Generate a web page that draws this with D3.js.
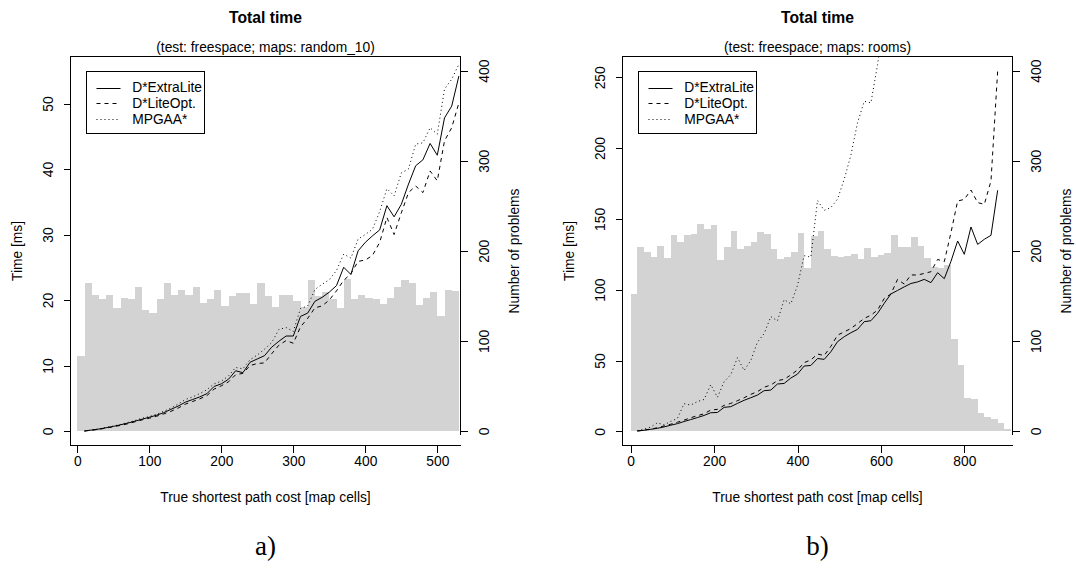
<!DOCTYPE html>
<html>
<head>
<meta charset="utf-8">
<script src="https://cdn.jsdelivr.net/npm/d3@7"></script>
<style>
  body { margin: 0; background: #fff; }
  text { font-family: "Liberation Sans", Arial, Helvetica, sans-serif; font-size: 13.8px; fill: #000; }
</style>
</head>
<body>
<svg id="chart" width="1076" height="569"></svg>
<script>
// ---------- panel a) : maps random_10 ----------
const edgesA = [0,10,20,30,40,50,60,70,80,90,100,110,120,130,140,150,160,170,180,190,200,
  210,220,230,240,250,260,270,280,290,300,310,320,330,340,350,360,370,380,390,400,
  410,420,430,440,450,460,470,480,490,500,510,520,530];
const problemsA = [83,164,151,147,151,137,148,147,160,134,131,147,164,151,156,151,160,142,147,156,
  139,150,153,153,141,164,150,138,151,151,144,138,168,150,154,147,136,169,147,151,
  148,147,141,148,160,168,164,140,148,154,128,157,155];
const costA = [10,20,30,40,50,60,70,80,90,100,110,120,130,140,150,160,170,180,190,200,
  210,220,230,240,250,260,270,280,290,300,310,320,330,340,350,360,370,380,390,400,
  410,420,430,440,450,460,470,480,490,500,510,520,530];
const extraLiteA = [0.0,0.15,0.3,0.5,0.7,0.95,1.2,1.5,1.8,2.1,2.4,2.8,3.3,3.8,4.4,4.8,5.2,5.7,6.8,7.2,
  7.9,9.2,8.9,10.5,11.0,11.5,12.8,13.7,14.5,14.5,17.5,18.0,19.8,20.4,21.2,22.2,25.0,23.9,27.5,28.8,
  29.8,30.7,34.4,32.7,34.6,37.7,40.5,41.4,43.9,42.1,47.8,49.6,54.2];
const liteOptA = [0.0,0.12,0.25,0.45,0.65,0.85,1.1,1.4,1.7,1.95,2.25,2.6,3.0,3.5,4.1,4.5,4.9,5.4,6.4,6.9,
  7.5,8.6,8.8,10.0,10.3,10.4,11.8,13.1,13.8,13.4,15.9,17.2,18.8,19.1,20.0,21.4,23.0,24.0,25.9,26.1,
  26.8,28.8,32.6,30.0,33.3,36.4,37.4,36.4,39.7,38.2,44.3,46.3,50.1];
const mpgaaA = [0.0,0.15,0.3,0.55,0.75,1.0,1.3,1.6,1.95,2.2,2.55,3.0,3.5,4.1,4.8,5.2,5.7,6.3,7.2,7.6,
  8.4,9.7,9.5,10.9,11.6,12.5,13.5,15.5,15.8,15.2,18.7,19.1,21.6,22.4,23.1,24.5,27.0,26.4,29.3,30.0,
  30.8,33.5,37.0,35.9,39.4,40.0,43.8,44.0,46.3,45.3,52.2,53.7,56.0];
const costTicksA = [0,100,200,300,400,500];
const timeTicksA = [0,10,20,30,40,50];

// ---------- panel b) : maps rooms ----------
const edgesB = [0,16,32,48,64,80,96,112,128,144,160,176,192,208,224,240,256,272,288,304,320,
  336,352,368,384,400,416,432,448,464,480,496,512,528,544,560,576,592,608,624,640,
  656,672,688,704,720,736,752,768,784,800,816,832,848,864,880,896,912];
const problemsB = [152,204,199,193,205,192,218,210,218,219,230,224,229,190,204,222,202,205,210,221,
  219,202,191,193,199,220,181,217,222,202,194,193,194,197,191,203,193,195,198,218,
  204,204,215,205,192,182,181,184,102,73,37,36,20,15,13,9,2];
const costB = [16,32,48,64,80,96,112,128,144,160,176,192,208,224,240,256,272,288,304,320,
  336,352,368,384,400,416,432,448,464,480,496,512,528,544,560,576,592,608,624,640,
  656,672,688,704,720,736,752,768,784,800,816,832,848,864,880];
const extraLiteB = [0.2,0.7,1.4,2.1,3.1,4.3,5.4,6.9,8.3,9.7,11.2,13.1,13.3,16.9,17.4,19.7,21.9,23.7,25.6,28.7,
  29.1,33.4,33.8,37.6,40.4,46.1,46.5,51.4,50.8,56.2,63.3,66.8,69.6,72.0,77.4,78.1,83.3,90.4,97.0,99.5,
  102.0,104.4,105.5,107.3,105.0,112.0,107.8,120.0,134.4,125.0,144.3,132.0,135.6,138.4,170.2];
const liteOptB = [0.2,0.9,1.6,2.5,3.8,5.0,6.4,7.9,9.6,11.0,12.4,15.0,15.5,18.3,19.7,21.6,23.7,26.1,28.0,31.1,
  32.7,35.8,36.7,39.8,43.3,48.5,50.4,54.6,53.5,60.0,67.9,70.2,72.6,76.1,79.7,82.0,85.6,93.8,97.0,107.3,
  104.0,110.4,110.4,111.5,112.7,121.4,119.8,140.3,162.6,163.8,170.4,161.5,160.3,176.8,254.4];
const mpgaaB = [0.5,1.5,3,6,4.5,7,9,19.5,18.5,21,22.5,33,24,35,40,52,43,50,63,69,
  81,78,93,90,103,124,123,163,156,158,164,178,195,218,233,232,259,292];
const costTicksB = [0,200,400,600,800];
const timeTicksB = [0,50,100,150,200,250];

const problemTicks = [0,100,200,300,400];
const seriesNames = ["D*ExtraLite","D*LiteOpt.","MPGAA*"];
const dashes = [null, "4,4", "1,3"];

const svg = d3.select("#chart");
svg.append("rect").attr("width",1076).attr("height",569).attr("fill","#fff");

function drawPanel(p) {
  const g = svg.append("g");
  const box = p.box;
  const x = d3.scaleLinear().domain(p.xDom).range(p.xRange);
  const yT = d3.scaleLinear().domain(p.tDom).range(p.tRange);
  const yC = d3.scaleLinear().domain([0,400]).range(p.cRange);

  const clipId = "clip" + p.id;
  svg.append("clipPath").attr("id", clipId).append("rect")
    .attr("x", box.l).attr("y", box.t).attr("width", box.r - box.l).attr("height", box.b - box.t);

  // histogram of problem counts
  const bins = p.counts.map((c, i) => ({x0: p.edges[i], x1: p.edges[i+1], c}));
  g.append("g").attr("clip-path", `url(#${clipId})`).attr("shape-rendering","crispEdges")
    .selectAll("rect").data(bins).join("rect")
    .attr("x", d => x(d.x0)).attr("width", d => x(d.x1) - x(d.x0))
    .attr("y", d => yC(d.c)).attr("height", d => yC(0) - yC(d.c))
    .attr("fill", "#d3d3d3");

  // time series
  const line = d3.line().x(d => x(d[0])).y(d => yT(d[1]));
  const lg = g.append("g").attr("clip-path", `url(#${clipId})`);
  p.series.forEach((s, i) => {
    const pts = s.map((v, j) => [p.cost[j], v]);
    lg.append("path").datum(pts).attr("d", line)
      .attr("fill","none").attr("stroke","#000").attr("stroke-width",1)
      .attr("stroke-dasharray", dashes[i]);
  });

  // frame (right side stops just below the zero of the count axis)
  const fr = g.append("g").attr("stroke","#000").attr("stroke-width",1).attr("fill","none")
    .attr("shape-rendering","crispEdges");
  fr.append("path").attr("d",
    `M${box.r},${p.rightEnd} L${box.r},${box.t} L${box.l},${box.t} L${box.l},${box.b} L${box.r},${box.b}`);

  // axes
  const ax = g.append("g").attr("transform", `translate(0,${box.b})`)
    .call(d3.axisBottom(x).tickValues(p.costTicks).tickSize(7).tickSizeOuter(0));
  ax.select(".domain").remove();
  ax.selectAll("text").attr("y", 15.5).attr("dy","0.35em");

  const ay = g.append("g").attr("transform", `translate(${box.l},0)`)
    .call(d3.axisLeft(yT).tickValues(p.timeTicks).tickSize(7).tickSizeOuter(0));
  ay.select(".domain").remove();
  ay.selectAll("text").attr("x", null).attr("dy", "0.35em").attr("text-anchor","middle")
    .attr("transform", `translate(${-22},0) rotate(-90)`);

  const ar = g.append("g").attr("transform", `translate(${box.r},0)`)
    .call(d3.axisRight(yC).tickValues(problemTicks).tickSize(7).tickSizeOuter(0));
  ar.select(".domain").remove();
  ar.selectAll("text").attr("x", null).attr("dy", "0.35em").attr("text-anchor","middle")
    .attr("transform", `translate(${23.3},0) rotate(-90)`);

  [ax, ay, ar].forEach(a => a.attr("font-family", null).attr("font-size", null)
    .selectAll("line").attr("shape-rendering","crispEdges"));

  const cx = (box.l + box.r) / 2;
  const cy = (box.t + box.b) / 2;
  g.append("text").attr("x", cx).attr("y", 23).attr("text-anchor","middle")
    .style("font-weight","bold").style("font-size","15.7px").text("Total time");
  g.append("text").attr("x", cx).attr("y", 52).attr("text-anchor","middle").text(p.subtitle);
  g.append("text").attr("x", cx).attr("y", 497).attr("dy","0.35em").attr("text-anchor","middle")
    .text("True shortest path cost [map cells]");
  g.append("text").attr("transform", `translate(${box.l - 53},${cy}) rotate(-90)`)
    .attr("dy","0.35em").attr("text-anchor","middle").text("Time [ms]");
  g.append("text").attr("transform", `translate(${box.r + 54},${cy}) rotate(-90)`)
    .attr("dy","0.35em").attr("text-anchor","middle").text("Number of problems");
  g.append("text").attr("x", cx).attr("y", 555).attr("text-anchor","middle")
    .style("font-family","'Liberation Serif','Times New Roman',serif").style("font-size","27px")
    .text(p.letter);

  // legend
  const L = {l: box.l + 15, t: box.t + 14.5, w: 117.5, h: 62};
  const leg = g.append("g");
  leg.append("rect").attr("x", Math.round(L.l) + 0.5).attr("y", L.t).attr("width", L.w).attr("height", L.h)
    .attr("fill","#fff").attr("stroke","#000").attr("stroke-width",1).attr("shape-rendering","crispEdges");
  seriesNames.forEach((name, i) => {
    const yy = L.t + 16.5 + i * 15.7;
    leg.append("line").attr("x1", L.l + 11).attr("x2", L.l + 35).attr("y1", Math.round(yy) + 0.5).attr("y2", Math.round(yy) + 0.5)
      .attr("stroke","#000").attr("stroke-width",1).attr("stroke-dasharray", dashes[i]);
    leg.append("text").attr("x", L.l + 46.7).attr("y", yy).attr("dy","0.35em").text(name);
  });
}

drawPanel({
  id: "A", box: {l: 70.5, r: 460.5, t: 56.5, b: 445.5}, rightEnd: 435,
  xDom: [0,500], xRange: [77.3, 437.3], tDom: [0,50], tRange: [431, 103.5], cRange: [431, 70.7],
  edges: edgesA, counts: problemsA, cost: costA, series: [extraLiteA, liteOptA, mpgaaA],
  costTicks: costTicksA, timeTicks: timeTicksA,
  subtitle: "(test: freespace; maps: random_10)", letter: "a)"
});
drawPanel({
  id: "B", box: {l: 622.5, r: 1012.5, t: 56.5, b: 445.5}, rightEnd: 435,
  xDom: [0,800], xRange: [630.7, 964.3], tDom: [0,250], tRange: [431.3, 77.3], cRange: [431, 70.7],
  edges: edgesB, counts: problemsB, cost: costB, series: [extraLiteB, liteOptB, mpgaaB],
  costTicks: costTicksB, timeTicks: timeTicksB,
  subtitle: "(test: freespace; maps: rooms)", letter: "b)"
});
</script>
</body>
</html>
